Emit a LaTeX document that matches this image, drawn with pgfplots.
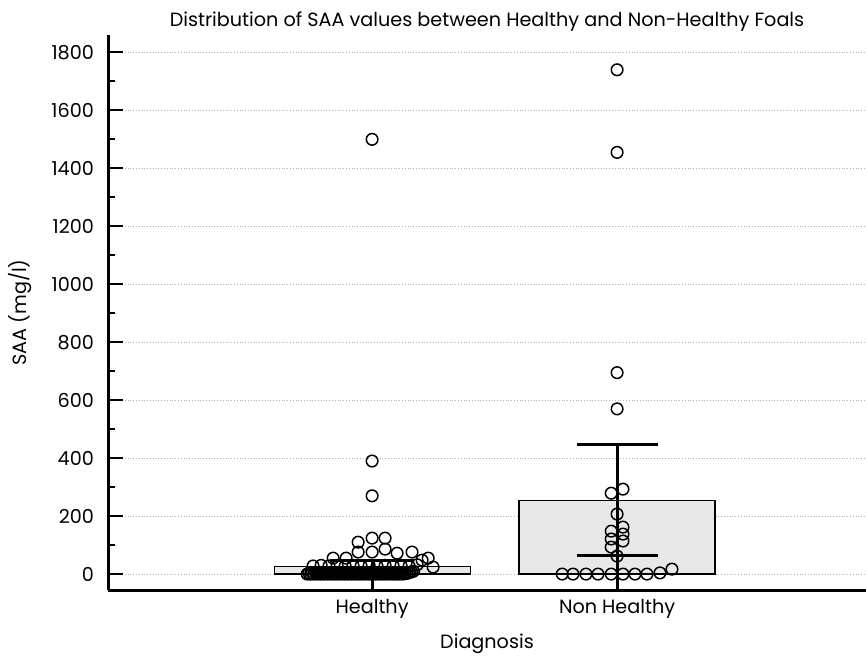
\documentclass[border=0pt]{standalone}
\usepackage{pgfplots}
\pgfplotsset{compat=1.18}
\usepackage{fontspec}
\setmainfont{Poppins}
\usetikzlibrary{calc,patterns}
\begin{document}
\begin{tikzpicture}
\begin{axis}[
  name=ax,
  scale only axis,
  width=379pt, height=277.5pt,
  xmin=-1.078, xmax=2.016,
  ymin=-55, ymax=1860,
  axis x line=bottom, axis y line=left,
  axis line style={line width=1.5pt, -},
  xtick={0,1}, xticklabels={Healthy, Non Healthy},
  x tick style={draw=none},
  ytick={0,200,...,1800},
  minor y tick num=1,
  y tick style={line width=1pt, black},
  tick align=inside,
  major tick length=7.5pt, minor tick length=3.5pt,
  ymajorgrids,
  major grid style={gray!60, densely dotted, line width=0.5pt},
  tick label style={font=\fontsize{9.6}{11}\selectfont},
  /pgf/number format/assume math mode=true,
  /pgf/number format/set thousands separator={},
  yticklabel style={xshift=-3.5pt},
  xticklabel style={yshift=-1pt},
  label style={font=\fontsize{9.6}{11}\selectfont},
  ylabel={SAA (mg/l)},
  xlabel={Diagnosis},
  ylabel style={yshift=3pt},
  xlabel style={yshift=-1pt},
  title={Distribution of SAA values between Healthy and Non-Healthy Foals},
  title style={font=\fontsize{9.6}{11}\selectfont, yshift=-8pt},
  clip=false,
]
% bars
\addplot[ybar, bar width=0.8, bar shift=0pt, draw=black, line width=0.6pt, fill=gray!18]
  coordinates {(0,25) (1,255)};
% Healthy points
\addplot[only marks, mark=o, mark size=2.9pt, mark options={fill=white, draw=black, line width=0.75pt}]
  coordinates {
  (0,1500) (0,390) (0,270)
  (-0.057,110) (0,124) (0.053,124)
  (-0.057,76) (0,76) (0.053,86) (0.102,72) (0.163,76)
  (-0.159,55) (-0.106,55) (0.204,48) (0.229,55)
  (-0.241,28) (-0.208,30) (-0.176,28) (-0.143,30) (-0.110,28) (-0.078,30) (-0.045,28)
  (-0.012,30) (0.020,28) (0.053,30) (0.086,28) (0.118,30) (0.151,28) (0.184,32) (0.249,24)
  };
\addplot[only marks, mark=o, mark size=2.9pt, mark options={fill=black, draw=black, line width=0.75pt}]
  coordinates {
  (-0.265,0) (-0.258,3) (-0.251,0) (-0.244,3) (-0.237,0) (-0.230,3) (-0.223,0) (-0.216,3)
  (-0.209,0) (-0.202,3) (-0.195,0) (-0.188,3) (-0.181,0) (-0.174,3) (-0.167,0) (-0.160,3)
  (-0.153,0) (-0.146,3) (-0.139,0) (-0.132,3) (-0.125,0) (-0.118,3) (-0.111,0) (-0.104,3)
  (-0.097,0) (-0.090,3) (-0.083,0) (-0.076,3) (-0.069,0) (-0.062,3) (-0.055,0) (-0.048,3)
  (-0.041,0) (-0.034,3) (-0.027,0) (-0.020,3) (-0.013,0) (-0.006,3) (0.001,0) (0.008,3)
  (0.015,0) (0.022,3) (0.029,0) (0.036,3) (0.043,0) (0.050,3) (0.057,0) (0.064,3)
  (0.071,0) (0.078,3) (0.085,0) (0.092,3) (0.099,0) (0.106,3) (0.113,0) (0.120,3)
  (0.127,0) (0.134,3) (0.141,2) (0.148,5) (0.155,6) (0.162,8) (0.169,10)
  };
% Non Healthy points
\addplot[only marks, mark=o, mark size=2.9pt, mark options={fill=white, draw=black, line width=0.75pt}]
  coordinates {
  (1,1740) (1,1455) (1,695) (1,570)
  (0.976,279) (1.024,293)
  (1,207) (1.024,162) (0.976,148) (1.024,138) (0.976,121) (1.024,114) (0.976,93) (1,62)
  (0.776,0) (0.820,0) (0.873,0) (0.922,0) (0.976,0) (1.024,0) (1.073,0) (1.122,0) (1.175,4) (1.224,17)
  };
% error bars
\addplot[black, line width=1.5pt] coordinates {(0,-55) (0,48)};
\addplot[black, line width=1.5pt] coordinates {(-0.17,48) (0.17,48)};
\addplot[black, line width=1.5pt] coordinates {(1,-55) (1,448)};
\addplot[black, line width=1.5pt] coordinates {(0.835,448) (1.165,448)};
\addplot[black, line width=1.5pt] coordinates {(0.835,65) (1.165,65)};
\end{axis}
\pgfresetboundingbox
\path ($(ax.south west)+(-54pt,-32.5pt)$) rectangle ($(ax.north east)+(0,17.5pt)$);
\end{tikzpicture}
\end{document}
